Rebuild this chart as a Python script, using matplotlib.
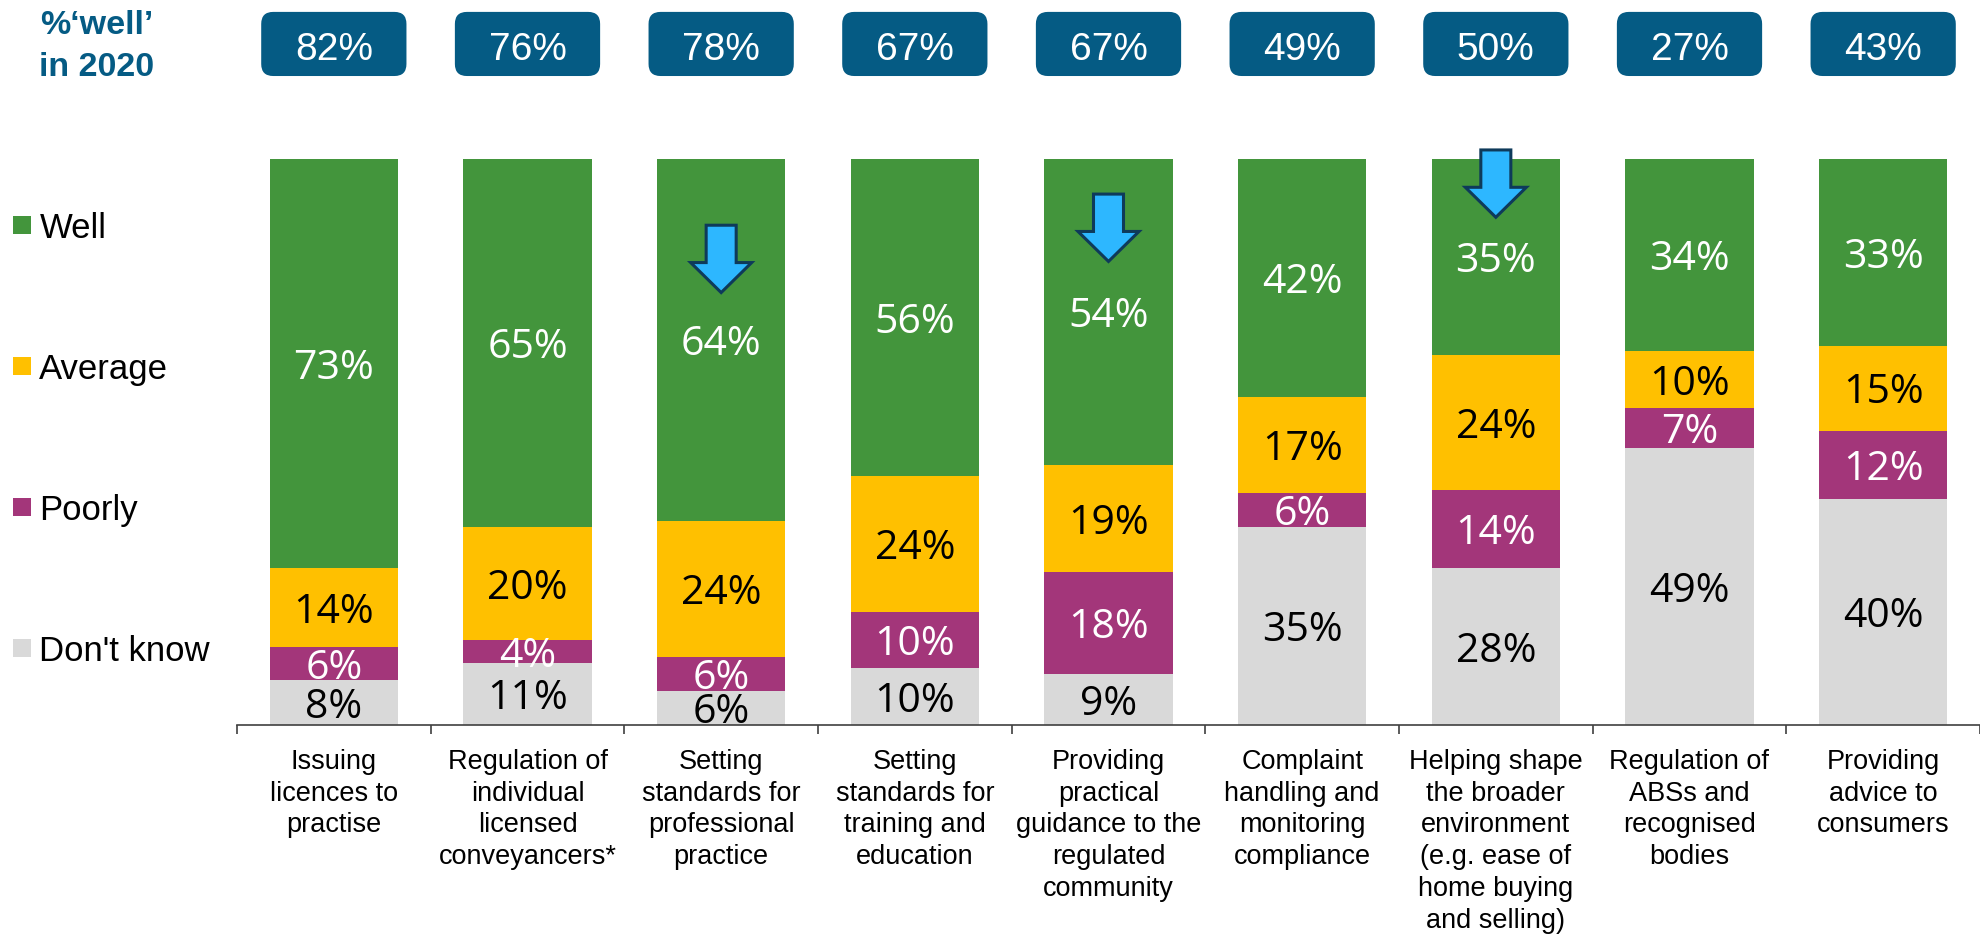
import numpy as np
import matplotlib
matplotlib.use("Agg")
import matplotlib.pyplot as plt
from matplotlib.patches import FancyBboxPatch

plt.rcParams["font.family"] = ["Liberation Sans", "DejaVu Sans"]

categories = [
    "Issuing\nlicences to\npractise",
    "Regulation of\nindividual\nlicensed\nconveyancers*",
    "Setting\nstandards for\nprofessional\npractice",
    "Setting\nstandards for\ntraining and\neducation",
    "Providing\npractical\nguidance to the\nregulated\ncommunity",
    "Complaint\nhandling and\nmonitoring\ncompliance",
    "Helping shape\nthe broader\nenvironment\n(e.g. ease of\nhome buying\nand selling)",
    "Regulation of\nABSs and\nrecognised\nbodies",
    "Providing\nadvice to\nconsumers",
]
well = [73, 65, 64, 56, 54, 42, 35, 34, 33]
average = [14, 20, 24, 24, 19, 17, 24, 10, 15]
poorly = [6, 4, 6, 10, 18, 6, 14, 7, 12]
dont_know = [8, 11, 6, 10, 9, 35, 28, 49, 40]
well_2020 = [82, 76, 78, 67, 67, 49, 50, 27, 43]

# categories that get a "down" arrow, and where the arrow starts (% of bar)
arrow_cats = [2, 4, 6]
arrow_tops = [88.3, 93.8, 101.6]

BLUE = "#055B84"

# bottom to top
series = [
    ("Don't know", dont_know, "#D9D9D9", "black"),
    ("Poorly", poorly, "#A3367A", "white"),
    ("Average", average, "#FFC000", "black"),
    ("Well", well, "#43953C", "white"),
]

fig = plt.figure(figsize=(19.8, 9.34), dpi=100)
ax = fig.add_axes([237 / 1980, 209 / 934, 1743 / 1980, 566 / 934])

x = np.arange(len(categories))
totals = np.sum([np.asarray(s[1], dtype=float) for s in series], axis=0)
bottom = np.zeros(len(categories))
containers = {}
for name, vals, color, tcolor in series:
    share = np.asarray(vals, dtype=float) / totals * 100
    containers[name] = ax.bar(x, share, width=0.664, bottom=bottom, color=color,
                              label=name, zorder=2)
    for xi, s, b, v in zip(x, share, bottom, vals):
        ax.text(xi, b + s / 2, f"{v}%", ha="center", va="center_baseline",
                color=tcolor, fontsize=29.5, family=["Open Sans", "DejaVu Sans"],
                zorder=4)
    bottom += share

ax.set_xlim(-0.5, len(categories) - 0.5)
ax.set_ylim(0, 100)
for side in ("top", "left", "right"):
    ax.spines[side].set_visible(False)
ax.spines["bottom"].set_color("#404040")
ax.spines["bottom"].set_linewidth(1.2)
ax.set_yticks([])

# boundary ticks (major) and category labels (minor)
ax.set_xticks(np.arange(-0.5, len(categories), 1.0))
ax.set_xticklabels([])
ax.set_xticks(x, minor=True)
ax.set_xticklabels(categories, minor=True)
ax.tick_params(axis="x", which="major", length=6.3, width=1.2, color="#404040")
ax.tick_params(axis="x", which="minor", length=0, pad=17.3, labelsize=19.5)
for lab in ax.get_xticklabels(minor=True):
    lab.set_linespacing(1.285)

# "% well in 2020" boxes above the bars
pos = ax.get_position()
px_x = fig.get_figwidth() * fig.dpi * pos.width / len(categories)
px_y = fig.get_figheight() * fig.dpi * pos.height / 100
for xi, v in zip(x, well_2020):
    box = FancyBboxPatch((xi - 0.375, 114.66), 0.75, 11.33,
                         boxstyle="round,pad=0,rounding_size=0.062",
                         mutation_aspect=px_x / px_y, fc=BLUE, ec="none",
                         clip_on=False, zorder=3)
    ax.add_patch(box)
    ax.text(xi, 120.05, f"{v}%", ha="center", va="center_baseline",
            color="white", fontsize=28, zorder=4, clip_on=False)

for c, top in zip(arrow_cats, arrow_tops):
    ax.arrow(c, top, 0, -11.9, width=0.155, head_width=0.315, head_length=5.3,
             length_includes_head=True, fc="#2DB7FF", ec="#0E3A5A", lw=2.2,
             joinstyle="miter", zorder=5, clip_on=False)

fig.text(97 / 1980, 1 - 9.5 / 934, "%\u2018well\u2019\nin 2020", ha="center", va="top",
         fontsize=24.5, fontweight="bold", color=BLUE, linespacing=1.5)

order = ["Well", "Average", "Poorly", "Don't know"]
fig.legend([containers[n] for n in order], order, loc="upper left",
           bbox_to_anchor=(13 / 1980, 1 - 211.7 / 934), frameon=False, fontsize=25,
           borderpad=0, borderaxespad=0, handlelength=0.52, handleheight=0.42,
           handletextpad=0.24, labelspacing=3.11)

fig.savefig("out.png", dpi=100)
plt.close(fig)
